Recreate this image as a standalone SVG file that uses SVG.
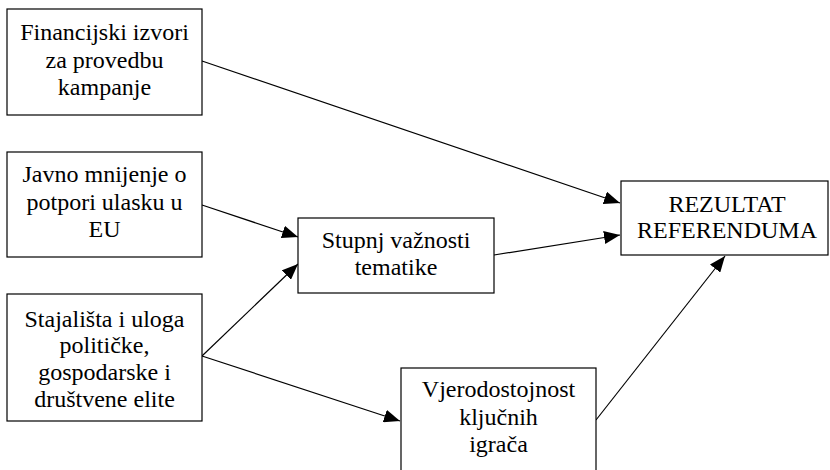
<svg xmlns="http://www.w3.org/2000/svg" width="830" height="470" viewBox="0 0 830 470">
<style>
.box{fill:#fff;stroke:#000;stroke-width:1.2}
.t{font-family:'Liberation Serif','Times New Roman',serif;font-size:24px;fill:#000;text-anchor:middle}
.c{stroke:#000;stroke-width:1.2;fill:none;marker-end:url(#ah)}
</style>
<defs>
<marker id="ah" markerUnits="userSpaceOnUse" markerWidth="17" markerHeight="13" refX="16" refY="6.5" orient="auto">
<path d="M0,0 L16,6.5 L0,13 z" fill="#000"/>
</marker>
</defs>
<rect width="830" height="470" fill="#fff"/>
<g id="connectors">
<line class="c" x1="202" y1="61" x2="620" y2="203"/>
<line class="c" x1="202" y1="205" x2="298" y2="237"/>
<line class="c" x1="202" y1="356" x2="298" y2="264"/>
<line class="c" x1="202" y1="356" x2="400" y2="421"/>
<line class="c" x1="494" y1="255" x2="620" y2="235"/>
<line class="c" x1="596" y1="420" x2="725" y2="256"/>
</g>
<g id="n1">
<rect class="box" x="7" y="9" width="195" height="106"/>
<text class="t" x="104.5" y="40">Financijski izvori</text>
<text class="t" x="104.5" y="68">za provedbu</text>
<text class="t" x="104.5" y="95">kampanje</text>
</g>
<g id="n2">
<rect class="box" x="7" y="152" width="195" height="105"/>
<text class="t" x="104.5" y="182">Javno mnijenje o</text>
<text class="t" x="104.5" y="210">potpori ulasku u</text>
<text class="t" x="104.5" y="237">EU</text>
</g>
<g id="n3">
<rect class="box" x="7" y="294" width="195" height="127"/>
<text class="t" x="104.5" y="327">Stajališta i uloga</text>
<text class="t" x="104.5" y="353">političke,</text>
<text class="t" x="104.5" y="380">gospodarske i</text>
<text class="t" x="104.5" y="407">društvene elite</text>
</g>
<g id="n4">
<rect class="box" x="298" y="218" width="196" height="75"/>
<text class="t" x="396" y="248">Stupnj važnosti</text>
<text class="t" x="396" y="275">tematike</text>
</g>
<g id="n5">
<rect class="box" x="621" y="181" width="207" height="74"/>
<text class="t" x="727" y="212">REZULTAT</text>
<text class="t" x="727" y="238">REFERENDUMA</text>
</g>
<g id="n6">
<rect class="box" x="401" y="368" width="195" height="110"/>
<text class="t" x="498.5" y="397">Vjerodostojnost</text>
<text class="t" x="498.5" y="425">ključnih</text>
<text class="t" x="498.5" y="452">igrača</text>
</g>
</svg>
